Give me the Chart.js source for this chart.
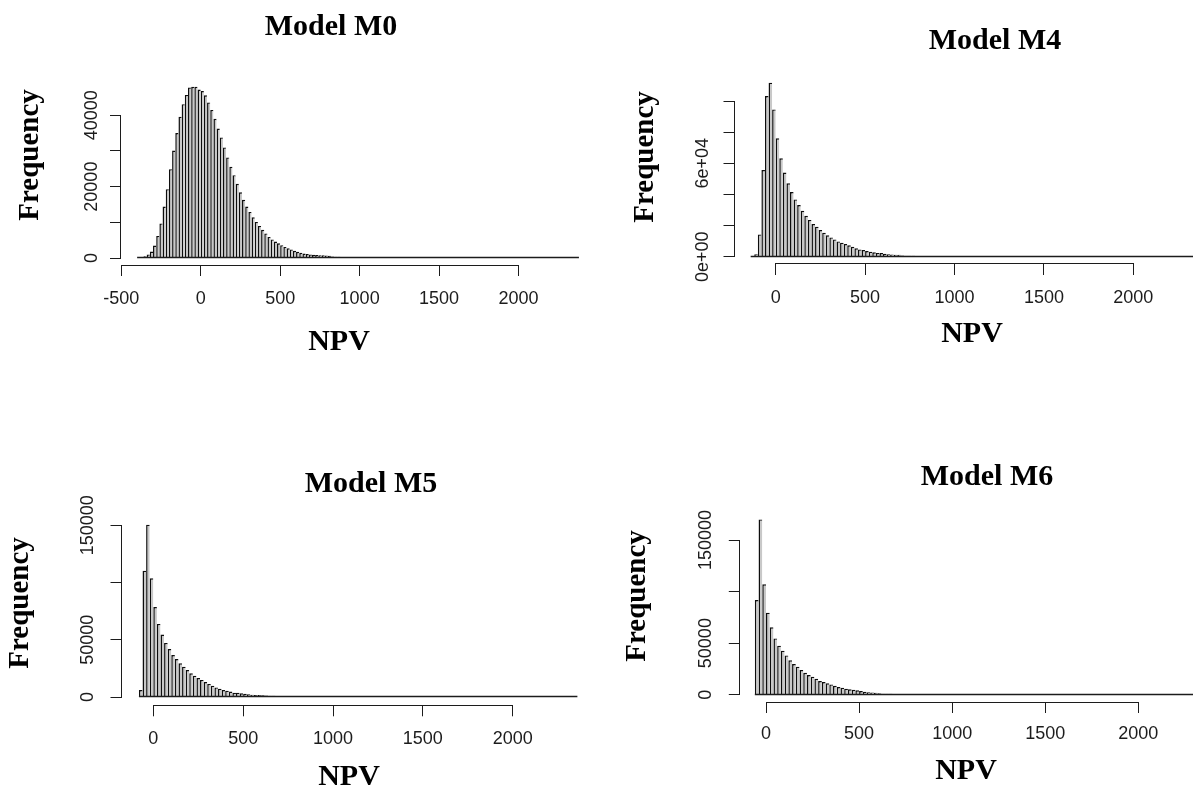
<!DOCTYPE html>
<html><head><meta charset="utf-8">
<script src="https://cdn.jsdelivr.net/npm/chart.js@4.4.1/dist/chart.umd.min.js"></script>
<style>
html,body{margin:0;padding:0;background:#fff;overflow:hidden;}
#wrap{position:relative;width:1193px;height:788px;background:#fff;}
canvas{position:absolute;left:0;top:0;}
</style></head><body><div id="wrap">
<canvas id="c0" width="1193" height="788"></canvas>
<canvas id="c1" width="1193" height="788"></canvas>
<canvas id="c2" width="1193" height="788"></canvas>
<canvas id="c3" width="1193" height="788"></canvas>
</div>
<script>
// ---------------- data ----------------
const binWidth = 20;

const titles = ['Model M0', 'Model M4', 'Model M5', 'Model M6'];
const xTitle = 'NPV';
const yTitle = 'Frequency';

// Model M0 : bins of 20 starting at -400
const m0Start = -400;
const m0Range = [-400, 2380];
const m0Counts = [100, 200, 500, 1000, 1800, 3500, 6200, 9700, 14400, 19300,
  24900, 30100, 35000, 39600, 43100, 45700, 47800, 48000, 48000, 47200,
  46800, 45600, 43600, 41500, 39000, 36300, 33800, 31000, 28200, 25600,
  23200, 20800, 18400, 16300, 14400, 12900, 11400, 10100, 9000, 7900,
  6900, 5900, 5200, 4600, 4100, 3600, 3100, 2700, 2400, 2000,
  1750, 1450, 1250, 1100, 1000, 900, 850, 800, 750, 700,
  600, 400, 350, 320, 300, 270, 250, 230, 200, 180,
  160, 140];

// Model M4 : bins of 20 starting at -140
const m4Start = -140;
const m4Range = [-140, 2360];
const m4Counts = [200, 1500, 14300, 55700, 103200, 111800, 94600,
  76000, 63200, 54000, 47100, 41500, 36800, 33200, 29500, 26300, 23600,
  21000, 19300, 17100, 15400, 13700, 12400, 11100, 9800, 9000, 8100,
  7300, 6400, 5400, 4700, 4300, 3600, 3200, 2800, 2400, 2300,
  1900, 1500, 1400, 1300, 1200,
  700, 650, 600, 550, 500, 450, 400, 350, 300, 250];

// Model M5 : bins of 20 starting at -80
const m5Start = -80;
const m5Range = [-80, 2360];
const m5Counts = [6100, 110400, 150500, 103700,
  78600, 63800, 54500, 47200, 41900, 36700, 33200, 29400, 26500, 23600,
  20700, 18600, 16600, 14900, 13100, 11400, 9900, 8400, 7300, 6100,
  5500, 4700, 3800, 3800, 3200, 2900, 2300, 2000, 1700, 1700,
  1500, 1400,
  1100, 1000, 900, 800, 700, 650, 600, 500, 450, 400, 350];

// Model M6 : bins of 20 starting at -60
const m6Start = -60;
const m6Range = [-60, 2300];
const m6Counts = [91800, 170000, 107000,
  79500, 65300, 54600, 47500, 42700, 38100, 33300, 29700, 27200, 23900,
  21300, 19100, 17500, 15500, 13300, 12300, 11000, 10000, 8700, 7400,
  6800, 5800, 5200, 4800, 4200, 3600, 2900, 2300, 2100, 1900,
  1300,
  1000, 900, 800, 700, 650, 600, 500, 450, 400, 350];

// tick values and labels
const xTicksM0 = [-500, 0, 500, 1000, 1500, 2000];
const xTicksOther = [0, 500, 1000, 1500, 2000];
const yTicksM0 = [0, 10000, 20000, 30000, 40000];
const yLabelsM0 = ['0', '', '20000', '', '40000'];
const yTicksM4 = [0, 20000, 40000, 60000, 80000, 100000];
const yLabelsM4 = ['0e+00', '', '', '6e+04', '', ''];
const yTicksM5 = [0, 50000, 100000, 150000];
const yLabelsM5 = ['0', '50000', '', '150000'];
const yTicksM6 = [0, 50000, 100000, 150000];
const yLabelsM6 = ['0', '50000', '', '150000'];

// ---------------- layout (page pixels) ----------------
const W = 1193, H = 788;
const X_AXIS_BOX = 60;
const panels = [
  { id: 'c0', title: titles[0], counts: m0Counts, start: m0Start, range: m0Range,
    xTicks: xTicksM0, yTicks: yTicksM0, yLabels: yLabelsM0,
    box: { l: 120.5, r: 596.6, t: 80, b: 265 }, x0: 200.7, xk: 0.15892, y0: 258, yk: 0.003568,
    titlePos: [331, 27], xlabPos: [339, 342], ylabPos: [31, 155], yTickX: 92, xTickPad: 12 },
  { id: 'c1', title: titles[1], counts: m4Counts, start: m4Start, range: m4Range,
    xTicks: xTicksOther, yTicks: yTicksM4, yLabels: yLabelsM4,
    box: { l: 734, r: 1193, t: 75.7, b: 264 }, x0: 775.7, xk: 0.1788, y0: 256.7, yk: 0.001557,
    titlePos: [995, 41], xlabPos: [972, 334], ylabPos: [646, 157], yTickX: 703, xTickPad: 12 },
  { id: 'c2', title: titles[2], counts: m5Counts, start: m5Start, range: m5Range,
    xTicks: xTicksOther, yTicks: yTicksM5, yLabels: yLabelsM5,
    box: { l: 121, r: 595, t: 518.4, b: 705.3 }, x0: 153.3, xk: 0.1797, y0: 697, yk: 0.0011447,
    titlePos: [371, 484], xlabPos: [349, 777], ylabPos: [21, 603], yTickX: 88, xTickPad: 12 },
  { id: 'c3', title: titles[3], counts: m6Counts, start: m6Start, range: m6Range,
    xTicks: xTicksOther, yTicks: yTicksM6, yLabels: yLabelsM6,
    box: { l: 739.3, r: 1193, t: 512.4, b: 702 }, x0: 766, xk: 0.18615, y0: 694.7, yk: 0.0010313,
    titlePos: [987, 477], xlabPos: [966, 771], ylabPos: [638, 596], yTickX: 706, xTickPad: 10 }
];

const INK = '#1c1c1c';
const tickFont = '"Liberation Sans", Arial, sans-serif';
const serif = '"Liberation Serif", "Times New Roman", serif';

function align(p) { return Math.round(p - 0.5) + 0.5; }

function makeRPlugin(p) {
  return {
    id: 'rstyle_' + p.id,
    afterDraw(chart) {
      const ctx = chart.ctx, xs = chart.scales.x, ys = chart.scales.y, ca = chart.chartArea;
      ctx.save();
      ctx.strokeStyle = INK; ctx.lineWidth = 1;
      // histogram base line (zero-count bins drawn flat, as R does)
      ctx.save();
      ctx.beginPath(); ctx.rect(ca.left, ca.top - 2, ca.right - ca.left, ca.bottom - ca.top + 4); ctx.clip();
      const yb = Math.round(ys.getPixelForValue(0)) - 0.5;
      ctx.lineWidth = 1.3;
      ctx.beginPath();
      ctx.moveTo(xs.getPixelForValue(p.range[0]), yb);
      ctx.lineTo(xs.getPixelForValue(p.range[1]), yb);
      ctx.stroke();
      ctx.restore();
      // R-style axis lines spanning first..last tick
      const xa = align(ca.bottom);
      ctx.beginPath();
      ctx.moveTo(align(xs.getPixelForValue(p.xTicks[0])) - 0.5, xa);
      ctx.lineTo(align(xs.getPixelForValue(p.xTicks[p.xTicks.length - 1])) + 0.5, xa);
      ctx.stroke();
      const ya = align(ca.left);
      ctx.beginPath();
      ctx.moveTo(ya, align(ys.getPixelForValue(p.yTicks[0])) + 0.5);
      ctx.lineTo(ya, align(ys.getPixelForValue(p.yTicks[p.yTicks.length - 1])) - 0.5);
      ctx.stroke();
      // rotated y tick labels
      ctx.fillStyle = INK;
      ctx.font = '18px ' + tickFont;
      ctx.textAlign = 'center'; ctx.textBaseline = 'middle';
      p.yTicks.forEach((v, i) => {
        const lab = p.yLabels[i];
        if (!lab) return;
        ctx.save();
        ctx.translate(p.yTickX, ys.getPixelForValue(v));
        ctx.rotate(-Math.PI / 2);
        ctx.fillText(lab, 0, 0);
        ctx.restore();
      });
      // titles
      ctx.fillStyle = '#000';
      ctx.font = 'bold 30px ' + serif;
      ctx.fillText(p.title, p.titlePos[0], p.titlePos[1]);
      ctx.fillText(xTitle, p.xlabPos[0], p.xlabPos[1]);
      ctx.save();
      ctx.translate(p.ylabPos[0], p.ylabPos[1]);
      ctx.rotate(-Math.PI / 2);
      ctx.font = 'bold 29px ' + serif;
      ctx.fillText(yTitle, 0, 0);
      ctx.restore();
      ctx.restore();
    }
  };
}

panels.forEach(p => {
  const xMin = (p.box.l - p.x0) / p.xk, xMax = (p.box.r - p.x0) / p.xk;
  const yMin = (p.y0 - p.box.b) / p.yk, yMax = (p.y0 - p.box.t) / p.yk;
  const points = p.counts.map((c, i) => ({ x: p.start + binWidth * (i + 0.5), y: c }));
  new Chart(document.getElementById(p.id), {
    type: 'bar',
    data: {
      datasets: [{
        label: p.title,
        data: points,
        backgroundColor: '#c8c8c8',
        borderColor: '#0d0d0d',
        borderWidth: { left: 1.5, top: 1.4, right: 0, bottom: 0 },
        borderSkipped: false,
        inflateAmount: 0,
        barPercentage: 1,
        categoryPercentage: 1,
        grouped: false
      }]
    },
    options: {
      responsive: false,
      animation: false,
      events: [],
      layout: { padding: { left: p.box.l, top: p.box.t, right: W - p.box.r, bottom: H - p.box.b - X_AXIS_BOX } },
      plugins: { legend: { display: false }, title: { display: false }, tooltip: { enabled: false } },
      scales: {
        x: {
          type: 'linear', min: xMin, max: xMax, offset: false,
          afterBuildTicks: s => { s.ticks = p.xTicks.map(v => ({ value: v })); },
          afterFit: s => { s.height = X_AXIS_BOX; },
          grid: { display: true, offset: false, drawOnChartArea: false, drawTicks: true, tickLength: 11, color: INK, lineWidth: 1 },
          border: { display: false },
          ticks: { autoSkip: false, maxRotation: 0, minRotation: 0, padding: p.xTickPad, color: INK,
                   font: { family: tickFont, size: 18 }, callback: v => String(v) }
        },
        y: {
          type: 'linear', min: yMin, max: yMax,
          afterBuildTicks: s => { s.ticks = p.yTicks.map(v => ({ value: v })); },
          afterFit: s => { s.width = 0; },
          grid: { display: true, offset: false, drawOnChartArea: false, drawTicks: true, tickLength: 10.5, color: INK, lineWidth: 1 },
          border: { display: false },
          ticks: { display: false }
        }
      }
    },
    plugins: [makeRPlugin(p)]
  });
});
</script>
</body></html>
